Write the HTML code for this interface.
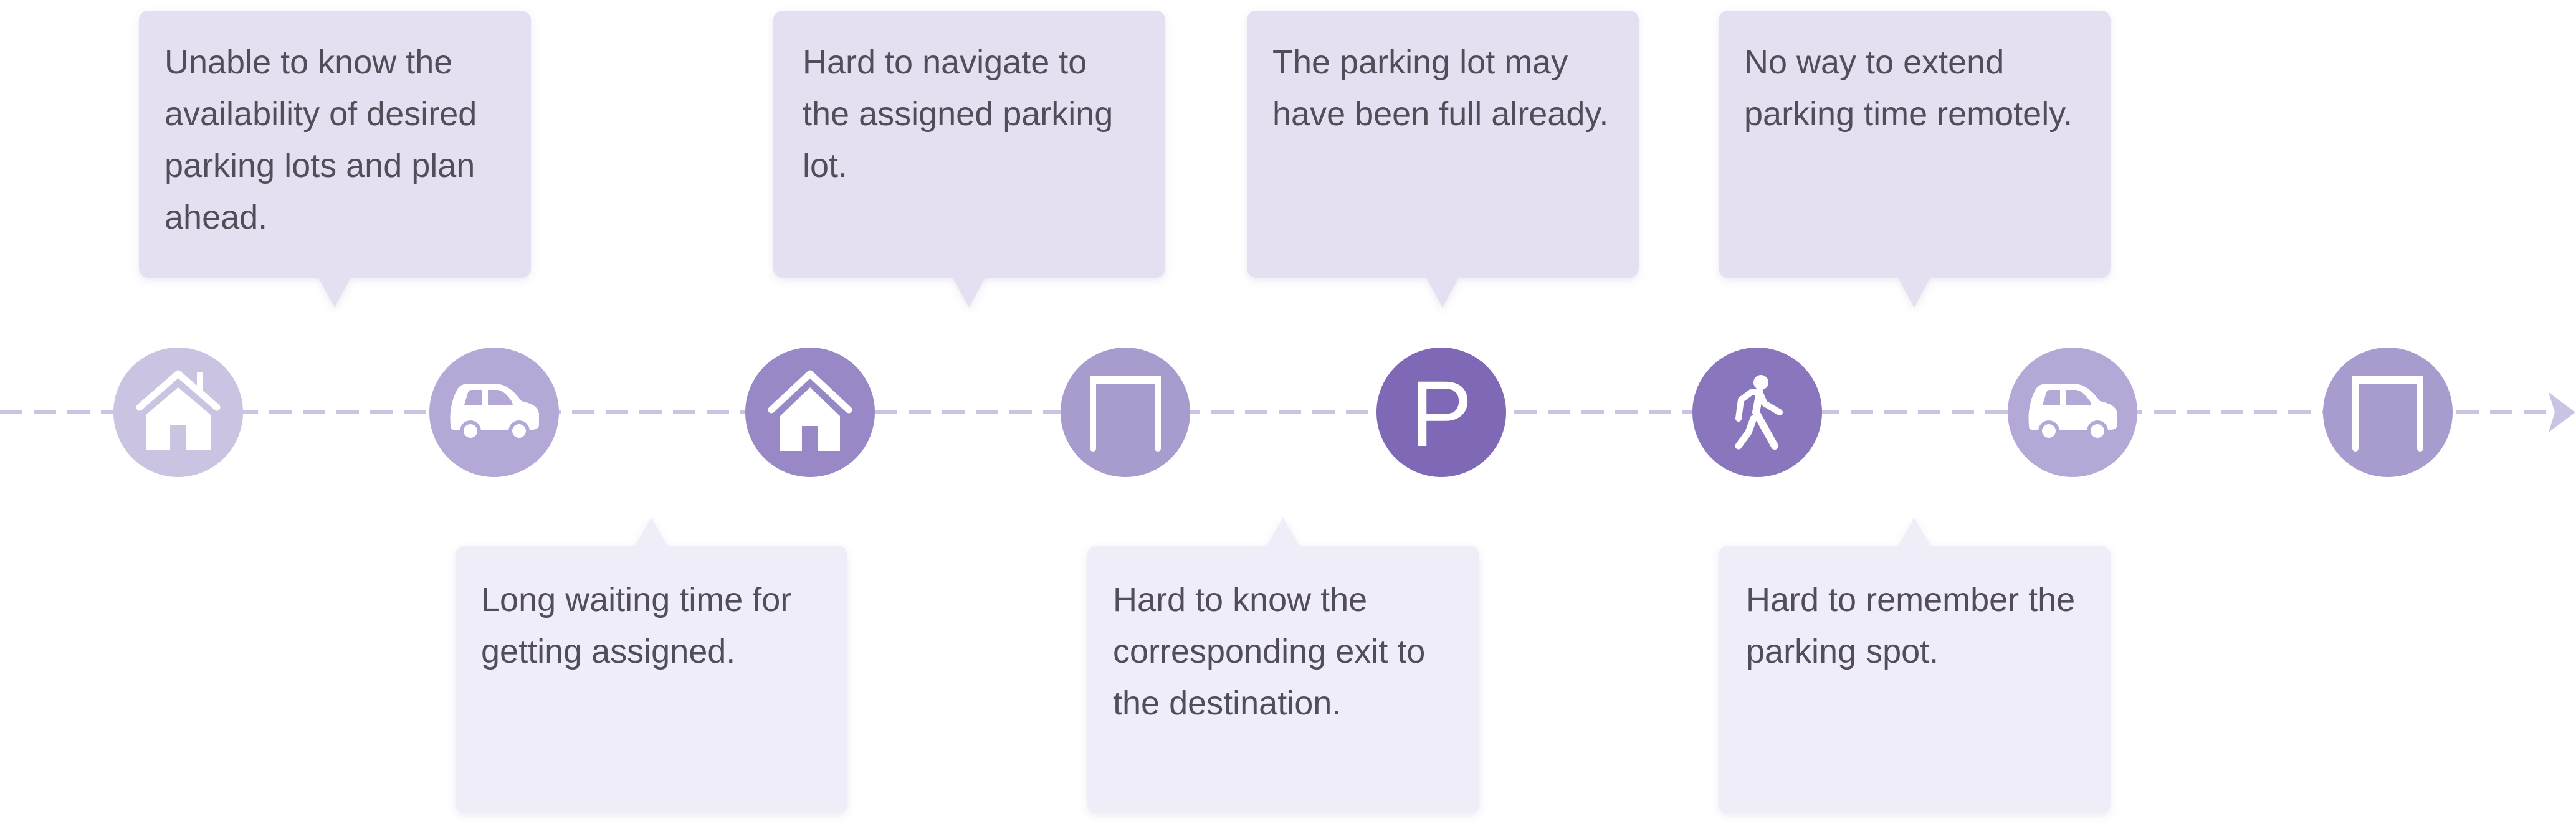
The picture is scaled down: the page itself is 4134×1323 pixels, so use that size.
<!DOCTYPE html>
<html><head><meta charset="utf-8"><style>
html,body{margin:0;padding:0;background:#fff;}
svg{display:block;}
text{font-family:"Liberation Sans",sans-serif;font-size:54px;fill:#524d58;}
</style></head><body>
<svg width="4134" height="1323" viewBox="0 0 4134 1323" xmlns="http://www.w3.org/2000/svg">
<defs>
<filter id="sh" x="-5%" y="-5%" width="110%" height="115%"><feDropShadow dx="0" dy="4" stdDeviation="6" flood-color="#6a5a9a" flood-opacity="0.12"/></filter>
<g id="house">
 <path d="M-62,-8 L0,-62 L62,-8" fill="none" stroke="#fff" stroke-width="11" stroke-linecap="round" stroke-linejoin="round"/>
 <rect x="30" y="-64" width="10" height="34" fill="#fff"/>
 <path d="M-52,4 L0,-40 L52,4 L52,60 L13,60 L13,20 L-13,20 L-13,60 L-52,60 Z" fill="#fff"/>
</g>
<g id="car">
 <path d="M-70,20 C-72,0 -68,-20 -60,-35 C-56,-44 -48,-46 -40,-46 L0,-46 C14,-46 24,-40 34,-30 L44,-18 C60,-14 70,-10 72,2 L72,20 C72,26 66,28 60,28 L-64,28 C-70,28 -70,24 -70,20 Z" fill="#fff"/>
 <path d="M-48,-12 L-42,-32 C-40,-36 -38,-36 -34,-36 L-20,-36 L-20,-12 Z M-10,-36 L6,-36 C16,-34 22,-26 28,-18 L30,-12 L-10,-12 Z" fill="currentColor"/>
 <circle cx="-38" cy="30" r="17" fill="currentColor"/><circle cx="-38" cy="30" r="11" fill="#fff"/>
 <circle cx="40" cy="30" r="17" fill="currentColor"/><circle cx="40" cy="30" r="11" fill="#fff"/>
</g>
<g id="gate">
 <path d="M-52,58 L-52,-54 L52,-54 L52,58" fill="none" stroke="#fff" stroke-width="10" stroke-linecap="round"/>
 <rect x="-52" y="-59" width="104" height="13" fill="#fff"/>
</g>
<g id="walk">
 <circle cx="6" cy="-48" r="12" fill="#fff"/>
 <path d="M-30,10 L-26,-20 L-10,-32 L4,-32 L12,-14 L36,0" fill="none" stroke="#fff" stroke-width="10" stroke-linecap="round" stroke-linejoin="round"/>
 <path d="M4,-32 L-2,0 L28,54" fill="none" stroke="#fff" stroke-width="12" stroke-linecap="round" stroke-linejoin="round"/>
 <path d="M-6,10 L-14,32 L-30,54" fill="none" stroke="#fff" stroke-width="11" stroke-linecap="round" stroke-linejoin="round"/>
</g>
</defs>

<line x1="0" y1="662" x2="4110" y2="662" stroke="#cbc3e3" stroke-width="6" stroke-dasharray="36 18"/>
<path d="M4090,630 L4133,662 L4090,694 L4100,662 Z" fill="#cbc3e3"/>

<g filter="url(#sh)" fill="#e4e0f1">
 <rect x="223" y="17" width="629" height="429" rx="15"/>
 <path d="M510,444 L537,494 L564,444 Z"/>
 <rect x="1241" y="17" width="629" height="429" rx="15"/>
 <path d="M1528,444 L1555,494 L1582,444 Z"/>
 <rect x="2001" y="17" width="629" height="429" rx="15"/>
 <path d="M2288,444 L2315,494 L2342,444 Z"/>
 <rect x="2758" y="17" width="629" height="429" rx="15"/>
 <path d="M3045,444 L3072,494 L3099,444 Z"/>
</g>
<g filter="url(#sh)" fill="#efedf7">
 <rect x="731" y="876" width="629" height="430" rx="15"/>
 <path d="M1018,878 L1045,831 L1072,878 Z"/>
 <rect x="1745" y="876" width="629" height="430" rx="15"/>
 <path d="M2032,878 L2059,831 L2086,878 Z"/>
 <rect x="2758" y="876" width="629" height="430" rx="15"/>
 <path d="M3045,878 L3072,831 L3099,878 Z"/>
</g>

<text x="264" y="118">Unable to know the</text>
<text x="264" y="201">availability of desired</text>
<text x="264" y="284">parking lots and plan</text>
<text x="264" y="367">ahead.</text>

<text x="1288" y="118">Hard to navigate to</text>
<text x="1288" y="201">the assigned parking</text>
<text x="1288" y="284">lot.</text>

<text x="2042" y="118">The parking lot may</text>
<text x="2042" y="201">have been full already.</text>

<text x="2799" y="118">No way to extend</text>
<text x="2799" y="201">parking time remotely.</text>

<text x="772" y="981">Long waiting time for</text>
<text x="772" y="1064">getting assigned.</text>

<text x="1786" y="981">Hard to know the</text>
<text x="1786" y="1064">corresponding exit to</text>
<text x="1786" y="1147">the destination.</text>

<text x="2802" y="981">Hard to remember the</text>
<text x="2802" y="1064">parking spot.</text>

<circle cx="286" cy="662" r="104" fill="#cbc3e2"/>
<use href="#house" x="286" y="662"/>
<circle cx="793" cy="662" r="104" fill="#b4a9d6"/>
<g color="#b4a9d6"><use href="#car" x="793" y="662"/></g>
<circle cx="1300" cy="662" r="104" fill="#9889c6"/>
<g transform="translate(1300,662)">
 <path d="M-62,-4 L0,-62 L62,-4" fill="none" stroke="#fff" stroke-width="11" stroke-linecap="round" stroke-linejoin="round"/>
 <path d="M-48,6 L0,-40 L48,6 L48,62 L13,62 L13,22 L-13,22 L-13,62 L-48,62 Z" fill="#fff"/>
</g>
<circle cx="1806" cy="662" r="104" fill="#a89ccf"/>
<use href="#gate" x="1806" y="662"/>
<circle cx="2313" cy="662" r="104" fill="#7f68b5"/>
<text x="2313" y="716" text-anchor="middle" style="font-size:150px;fill:#fff">P</text>
<circle cx="2820" cy="662" r="104" fill="#8a76bd"/>
<use href="#walk" x="2820" y="662"/>
<circle cx="3326" cy="662" r="104" fill="#b4a9d6"/>
<g color="#b4a9d6"><use href="#car" x="3326" y="662"/></g>
<circle cx="3832" cy="662" r="104" fill="#a89ccf"/>
<use href="#gate" x="3832" y="662"/>
</svg>
</body></html>
